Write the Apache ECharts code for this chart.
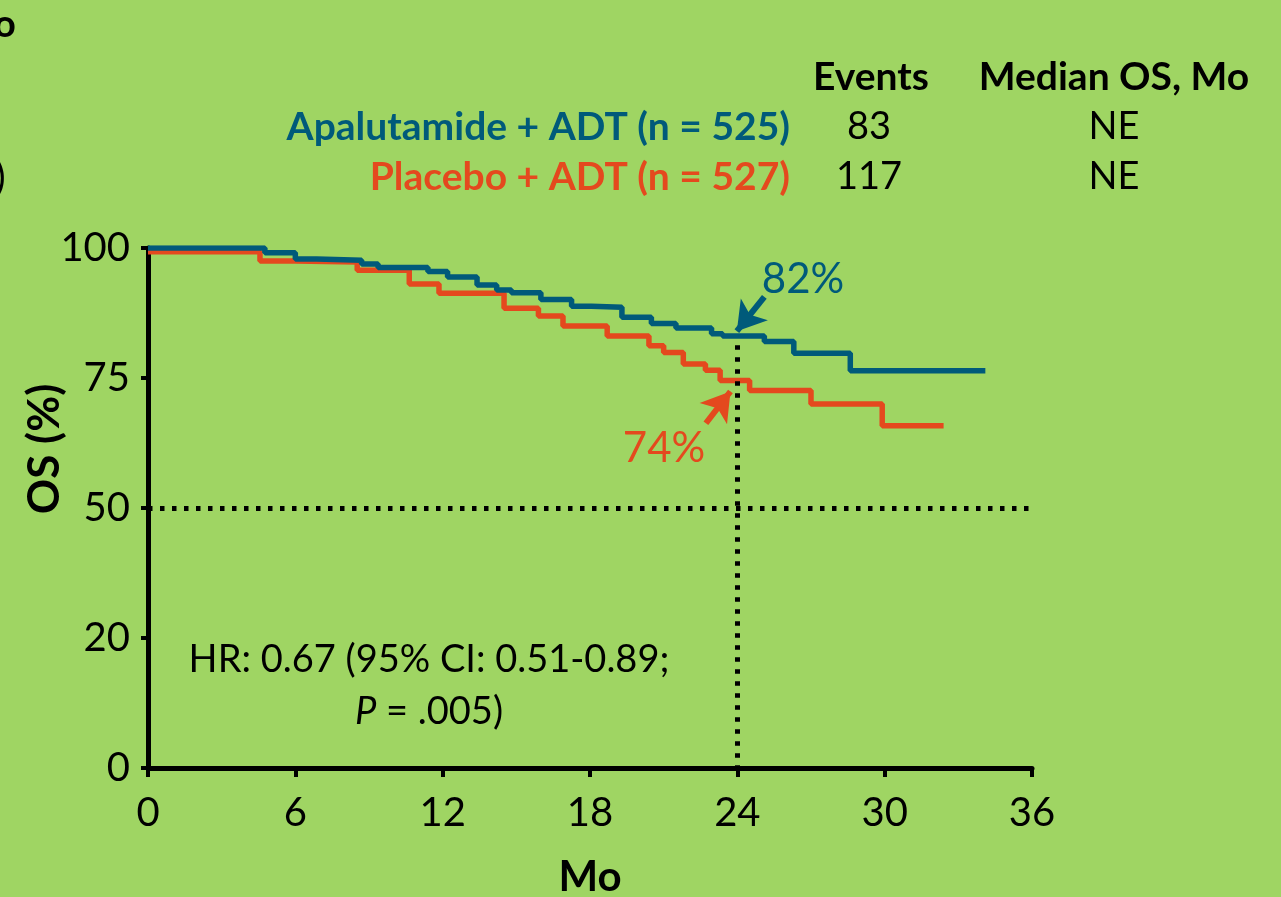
<!DOCTYPE html>
<html><head><meta charset="utf-8">
<script src="https://cdn.jsdelivr.net/npm/echarts@6/dist/echarts.min.js"></script>
<style>html,body{margin:0;padding:0;background:#9fd563;overflow:hidden;} #c{width:1281px;height:897px;}</style>
</head><body><div id="c"></div>
<script>
// ---- data ----
const yTickValues = [0, 25, 50, 75, 100];
const yTickLabels = ['0', '20', '50', '75', '100'];
const apaTimes = [0, 4.76, 6.0, 6.87, 8.7, 9.37, 11.4, 12.2, 13.4, 14.2, 14.8, 16.0, 17.25, 18.06, 19.3, 20.5, 21.5, 22.95, 23.4, 25.1, 26.3, 28.6, 34.1];
const apaSurv  = [100, 99.1, 97.9, 97.65, 96.9, 96.25, 95.5, 94.4, 92.9, 91.9, 91.4, 90.1, 88.8, 88.6, 86.7, 85.5, 84.6, 83.5, 83.1, 82.0, 79.75, 76.4, 76.4];
const placTimes = [0, 4.56, 6.0, 8.52, 10.64, 11.85, 14.5, 15.9, 16.9, 18.7, 20.4, 21.0, 21.8, 22.7, 23.3, 24.5, 27.0, 29.9, 32.4];
const placSurv  = [99.3, 97.5, 97.3, 95.7, 93.1, 91.3, 88.4, 86.9, 85.0, 83.1, 81.2, 79.9, 77.7, 76.5, 74.5, 72.6, 70.0, 65.8, 65.8];
const apaLabel = 'Apalutamide + ADT (n = 525)';
const placLabel = 'Placebo + ADT (n = 527)';
const apaEvents = '83', placEvents = '117';
const apaMedian = 'NE', placMedian = 'NE';
const apaAt24 = '82%', placAt24 = '74%';

// ---- styles ----
const BLUE = '#005a7a', RED = '#e4491e', FONT = 'Lato';
const pairs = (t, s) => t.map((x, i) => [x, s[i]]);

const chart = echarts.init(document.getElementById('c'), null, {renderer: 'canvas', width: 1281, height: 897});
const dotted = {color: '#000', width: 5, type: [4.5, 7.5], cap: 'butt'};

chart.setOption({
  backgroundColor: '#9fd563',
  animation: false,
  grid: {left: 148, top: 248, width: 884, height: 520, containLabel: false, outerBoundsMode: 'none'},
  xAxis: {
    type: 'value', min: 0, max: 36, interval: 6,
    name: 'Mo', nameLocation: 'middle', nameGap: 88,
    nameTextStyle: {fontFamily: FONT, fontWeight: 'bold', fontSize: 42, color: '#000'},
    axisLine: {show: true, lineStyle: {color: '#000', width: 5}},
    axisTick: {show: true, length: 9, lineStyle: {color: '#000', width: 4}},
    axisLabel: {fontFamily: FONT, fontSize: 40, color: '#000', margin: 25},
    splitLine: {show: false}
  },
  yAxis: {
    type: 'value', min: 0, max: 100, interval: 25,
    axisLine: {show: true, lineStyle: {color: '#000', width: 5}},
    axisTick: {show: true, length: 7, lineStyle: {color: '#000', width: 4}},
    axisLabel: {fontFamily: FONT, fontSize: 40, color: '#000', margin: 18,
      formatter: v => { const i = yTickValues.indexOf(v); return i >= 0 ? yTickLabels[i] : ''; }},
    splitLine: {show: false}
  },
  series: [
    {
      name: placLabel, type: 'line', step: 'end', symbol: 'none',
      data: pairs(placTimes, placSurv),
      lineStyle: {color: RED, width: 5.5}, z: 3,
      markLine: {
        silent: true, symbol: ['none', 'none'], label: {show: false},
        lineStyle: dotted,
        data: [
          [{coord: [0, 50]}, {coord: [36, 50]}],
          [{coord: [24, 81.3]}, {coord: [24, 0]}]
        ]
      }
    },
    {
      name: apaLabel, type: 'line', step: 'end', symbol: 'none',
      data: pairs(apaTimes, apaSurv),
      lineStyle: {color: BLUE, width: 5.5}, z: 4
    },
    {
      type: 'line', data: [], z: 5,
      markLine: {
        silent: true, symbol: ['none', 'arrow'], symbolSize: [26, 28], label: {show: false},
        lineStyle: {color: BLUE, width: 6, type: 'solid'},
        data: [[{coord: [25.1, 90.6]}, {coord: [23.98, 84.0]}]]
      }
    },
    {
      type: 'line', data: [], z: 5,
      markLine: {
        silent: true, symbol: ['none', 'arrow'], symbolSize: [26, 28], label: {show: false},
        lineStyle: {color: RED, width: 6, type: 'solid'},
        data: [[{coord: [22.72, 66.3]}, {coord: [23.72, 72.4]}]]
      }
    }
  ],
  graphic: [
    {type: 'text', x: 45, y: 449, rotation: Math.PI / 2, style: {text: 'OS (%)', font: 'bold 44px Lato', fill: '#000', align: 'center', verticalAlign: 'middle'}},
    {type: 'text', x: 871, y: 77, style: {text: 'Events', font: 'bold 39px Lato', fill: '#000', align: 'center', verticalAlign: 'middle'}},
    {type: 'text', x: 1114, y: 77, style: {text: 'Median OS, Mo', font: 'bold 39px Lato', fill: '#000', align: 'center', verticalAlign: 'middle'}},
    {type: 'text', x: 790, y: 127, style: {text: apaLabel, font: 'bold 39px Lato', fill: BLUE, align: 'right', verticalAlign: 'middle'}},
    {type: 'text', x: 790, y: 177, style: {text: placLabel, font: 'bold 39px Lato', fill: RED, align: 'right', verticalAlign: 'middle'}},
    {type: 'text', x: 869, y: 127, style: {text: apaEvents, font: '38px Lato', fill: '#000', align: 'center', verticalAlign: 'middle'}},
    {type: 'text', x: 869, y: 177, style: {text: placEvents, font: '38px Lato', fill: '#000', align: 'center', verticalAlign: 'middle'}},
    {type: 'text', x: 1114, y: 127, style: {text: apaMedian, font: '38px Lato', fill: '#000', align: 'center', verticalAlign: 'middle'}},
    {type: 'text', x: 1114, y: 177, style: {text: placMedian, font: '38px Lato', fill: '#000', align: 'center', verticalAlign: 'middle'}},
    {type: 'text', x: 803, y: 279, style: {text: apaAt24, font: '42px Lato', fill: BLUE, align: 'center', verticalAlign: 'middle'}},
    {type: 'text', x: 664, y: 448, style: {text: placAt24, font: '42px Lato', fill: RED, align: 'center', verticalAlign: 'middle'}},
    {type: 'text', x: 429, y: 660, style: {text: 'HR: 0.67 (95% CI: 0.51-0.89;', font: '38px Lato', fill: '#000', align: 'center', verticalAlign: 'middle'}},
    {type: 'text', x: 429, y: 712, style: {text: '{i|P} = .005)', font: '38px Lato', fill: '#000', align: 'center', verticalAlign: 'middle',
      rich: {i: {fontStyle: 'italic', fontSize: 38, fontFamily: 'Lato', fill: '#000'}}}},
    {type: 'text', x: -6, y: 25, style: {text: 'o', font: 'bold 38px Lato', fill: '#000', align: 'left', verticalAlign: 'middle'}},
    {type: 'text', x: -5, y: 178, style: {text: ')', font: '40px Lato', fill: '#000', align: 'left', verticalAlign: 'middle'}}
  ]
});
</script>
</body></html>
